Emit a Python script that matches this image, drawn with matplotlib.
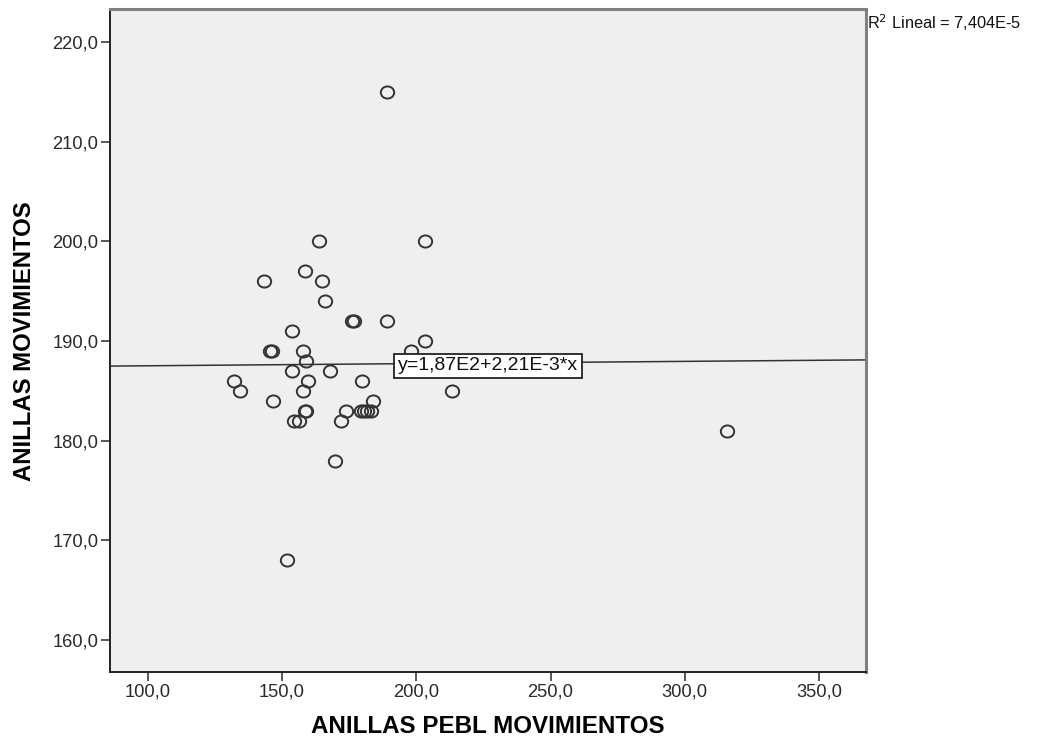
import numpy as np
import matplotlib
matplotlib.use('Agg')
import matplotlib.pyplot as plt
from matplotlib.ticker import FuncFormatter
from matplotlib.path import Path
from matplotlib.transforms import Affine2D

plt.rcParams['font.family'] = ['Liberation Sans', 'DejaVu Sans']

# Puntuaciones por sujeto
pebl = [189.2, 163.7, 203.4, 158.7, 143.4, 164.9, 165.9, 176.2, 176.8, 189.1,
        153.7, 203.4, 145.5, 146.2, 157.7, 198.1, 158.8, 153.6, 167.9, 132.3,
        159.7, 179.9, 134.4, 157.7, 213.4, 146.5, 184.0, 158.4, 158.9, 173.9,
        179.4, 180.6, 181.8, 183.0, 154.6, 156.4, 171.9, 169.8, 151.7, 315.6]
anillas = [215, 200, 200, 197, 196, 196, 194, 192, 192, 192,
           191, 190, 189, 189, 189, 189, 188, 187, 187, 186,
           186, 186, 185, 185, 185, 184, 184, 183, 183, 183,
           183, 183, 183, 183, 182, 182, 182, 178, 168, 181]

# Ajuste lineal
b0 = 187.3
b1 = 2.21e-3
r2 = 7.404e-5

xticks = [100, 150, 200, 250, 300, 350]
yticks = [160, 170, 180, 190, 200, 210, 220]

def coma(v, pos=None):
    return f'{v:.1f}'.replace('.', ',')

# circulo algo achatado, como el de SPSS
elipse = Path.unit_circle().transformed(Affine2D().scale(1.1, 1.0))

fig = plt.figure(figsize=(10.37, 7.40), dpi=100)
ax = fig.add_axes([0.1061, 0.0919, 0.729, 0.8953])
ax.set_facecolor('#efefef')

ax.plot(pebl, anillas, linestyle='none', marker=elipse, markersize=9.6,
        markerfacecolor='none', markeredgecolor='#333333', markeredgewidth=1.4)

xmin, xmax = 85.96, 367.46
xl = np.array([xmin, xmax])
ax.plot(xl, b0 + b1 * xl, color='#333333', linewidth=1.1)

ax.text(226.7, 187.5, 'y=' + f'{b0:.2E}'.replace('.', ',').replace('E+02', 'E2')
        + '+' + f'{b1:.2E}'.replace('.', ',').replace('E-03', 'E-3') + '*x',
        ha='center', va='center', fontsize=14, color='#111111',
        bbox=dict(boxstyle='square,pad=0.2', facecolor='white',
                  edgecolor='#222222', linewidth=1.3))

ax.set_xlim(xmin, xmax)
ax.set_ylim(156.78, 223.29)
ax.set_xticks(xticks)
ax.set_yticks(yticks)
ax.xaxis.set_major_formatter(FuncFormatter(coma))
ax.yaxis.set_major_formatter(FuncFormatter(coma))
ax.tick_params(axis='both', direction='out', length=6.5, width=1.1,
               labelsize=13.2, colors='#2a2a2a', pad=2)

for s in ['left', 'bottom']:
    ax.spines[s].set_color('#222222')
    ax.spines[s].set_linewidth(1.4)
for s in ['top', 'right']:
    ax.spines[s].set_color('#808080')
    ax.spines[s].set_linewidth(2.2)

ax.set_xlabel('ANILLAS PEBL MOVIMIENTOS', fontsize=17.4, fontweight='bold', labelpad=10)
ax.set_ylabel('ANILLAS MOVIMIENTOS', fontsize=17.2, fontweight='bold', labelpad=12)

fig.text(0.8365, 0.969, 'R$^2$ Lineal = ' + f'{r2:.3E}'.replace('.', ',').replace('E-05', 'E-5'),
         fontsize=11.8, ha='left', va='center', color='#111111')

fig.savefig('out.png', dpi=100)
